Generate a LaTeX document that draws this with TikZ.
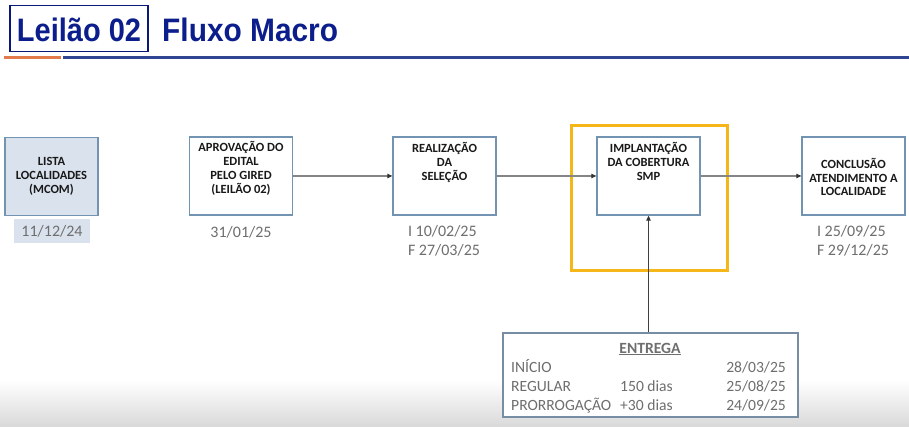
\documentclass[tikz,border=0pt]{standalone}
\usepackage{fontspec}
\usepackage{graphicx}
\setmainfont{Carlito}
\newfontfamily\titlefont{Liberation Sans}
\usetikzlibrary{arrows.meta}
\definecolor{navy}{HTML}{0B1E8C}
\definecolor{boxline}{HTML}{7393B3}
\definecolor{boxfill}{HTML}{DAE2EE}
\definecolor{datecol}{HTML}{6E6E6E}
\definecolor{orangeline}{HTML}{E27B4B}
\definecolor{blueline}{HTML}{2F4592}
\definecolor{frameyellow}{HTML}{F4B619}
\definecolor{conncol}{HTML}{858585}
\tikzset{
  titletext/.style={font=\titlefont\fontsize{29}{32}\selectfont\bfseries, text=navy, inner sep=0pt},
  stage/.style={draw=boxline, line width=1.3pt, minimum width=103pt, minimum height=78pt, inner sep=0pt},
  stagetext/.style={font=\fontsize{12.5}{13.8}\selectfont\bfseries, text=black!90, align=center, inner sep=0pt},
  datetext/.style={font=\fontsize{16}{19.5}\selectfont, text=datecol, align=left, inner sep=0pt},
  rowtext/.style={font=\fontsize{15.6}{19}\selectfont, text=datecol, inner sep=0pt},
  conn/.style={draw=conncol, line width=1.1pt, -{Triangle[length=5pt,width=4.5pt,fill=black!80,color=black!80]}},
}
\begin{document}
\begin{tikzpicture}[x=1pt,y=-1pt]
\useasboundingbox (0,0) rectangle (909,427);
\fill[white] (0,0) rectangle (909,427);
\shade[top color=white, bottom color=black!15] (0,380) rectangle (909,427);
% header
\node[draw=navy!85!black, line width=1.6pt, minimum width=138pt, minimum height=46pt, inner sep=0pt] (title) at (79,28.5) {};
\node[titletext] (titletxt) at (79,30) {\scalebox{1}[1.12]{Leilão 02}};
\node[titletext, anchor=west] (subtitle) at (162,30) {\scalebox{1.03}[1.12]{Fluxo Macro}};
\draw[orangeline, line width=2.6pt] (4,57.5) -- (61,57.5);
\draw[blueline, line width=2.6pt] (63,57.5) -- (909,57.5);
% stages
\node[stage, fill=boxfill, minimum width=93pt] (s1) at (51.5,176.5) {};
\node[stagetext] at (s1.center) {LISTA\\LOCALIDADES\\(MCOM)};
\node[fill=boxfill, minimum width=76pt, minimum height=24pt, inner sep=0pt, font=\fontsize{16}{19}\selectfont, text=datecol] (d1) at (52,231) {11/12/24};

\node[stage] (s2) at (241,176) {};
\node[stagetext, anchor=north] at ([yshift=-5pt]s2.north) {APROVAÇÃO DO\\EDITAL\\PELO GIRED\\(LEILÃO 02)};
\node[datetext, anchor=north] (d2) at (241,226) {31/01/25};

\node[stage] (s3) at (444.5,176) {};
\node[stagetext, anchor=north] at ([yshift=-6pt]s3.north) {REALIZAÇÃO\\DA\\SELEÇÃO};
\node[datetext, anchor=north] (d3) at (444,225) {I 10/02/25\\F 27/03/25};

\node[draw=frameyellow, line width=3pt, minimum width=156pt, minimum height=145pt, inner sep=0pt] (frame) at (649,198.5) {};
\node[stage] (s4) at (648.5,176) {};
\node[stagetext, anchor=north] at ([yshift=-6pt]s4.north) {IMPLANTAÇÃO\\DA COBERTURA\\SMP};

\node[stage] (s5) at (853.5,176) {};
\node[stagetext] at ([yshift=-1pt]s5.center) {CONCLUSÃO\\ATENDIMENTO A\\LOCALIDADE};
\node[datetext, anchor=north] (d5) at (853,225) {I 25/09/25\\F 29/12/25};

% delivery box
\node[draw=boxline!70!gray, line width=1.3pt, minimum width=295pt, minimum height=84pt, inner sep=0pt, fill=white] (ent) at (650.5,375) {};
\node[font=\fontsize{15.6}{19}\selectfont\bfseries, text=datecol, inner sep=0pt, anchor=base] (enth) at (650,353) {\underline{ENTREGA}};
\node[rowtext, anchor=base west] (r1a) at (511,372) {INÍCIO};
\node[rowtext, anchor=base east] (r1c) at (786,372) {28/03/25};
\node[rowtext, anchor=base west] (r2a) at (511,391) {REGULAR};
\node[rowtext, anchor=base west] (r2b) at (620,391) {150 dias};
\node[rowtext, anchor=base east] (r2c) at (786,391) {25/08/25};
\node[rowtext, anchor=base west] (r3a) at (511,410) {PRORROGAÇÃO};
\node[rowtext, anchor=base west] (r3b) at (620,410) {+30 dias};
\node[rowtext, anchor=base east] (r3c) at (786,410) {24/09/25};

% connectors
\draw[conn] (s2.east) -- (s3.west);
\draw[conn] (s3.east) -- (s4.west);
\draw[conn] (s4.east) -- (s5.west);
\draw[conn, draw=black!75] (ent.north -| s4.south) -- (s4.south);
\end{tikzpicture}
\end{document}
